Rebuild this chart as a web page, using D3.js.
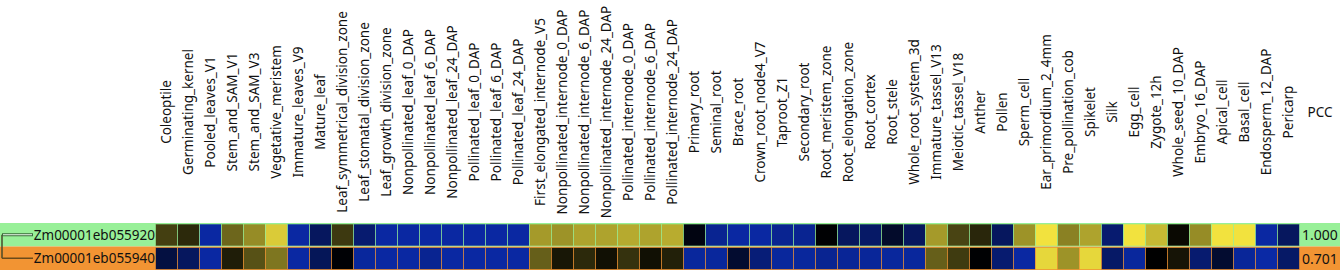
<!DOCTYPE html>
<html><head><meta charset="utf-8">
<script src="https://cdn.jsdelivr.net/npm/d3@7"></script>
<style>html,body{margin:0;padding:0;background:#fff;}svg{display:block;}</style>
</head><body><div id="chart"></div>
<script>
const tissues = ["Coleoptile","Germinating_kernel","Pooled_leaves_V1","Stem_and_SAM_V1","Stem_and_SAM_V3","Vegetative_meristem","Immature_leaves_V9","Mature_leaf","Leaf_symmetrical_division_zone","Leaf_stomatal_division_zone","Leaf_growth_division_zone","Nonpollinated_leaf_0_DAP","Nonpollinated_leaf_6_DAP","Nonpollinated_leaf_24_DAP","Pollinated_leaf_0_DAP","Pollinated_leaf_6_DAP","Pollinated_leaf_24_DAP","First_elongated_internode_V5","Nonpollinated_internode_0_DAP","Nonpollinated_internode_6_DAP","Nonpollinated_internode_24_DAP","Pollinated_internode_0_DAP","Pollinated_internode_6_DAP","Pollinated_internode_24_DAP","Primary_root","Seminal_root","Brace_root","Crown_root_node4_V7","Taproot_Z1","Secondary_root","Root_meristem_zone","Root_elongation_zone","Root_cortex","Root_stele","Whole_root_system_3d","Immature_tassel_V13","Meiotic_tassel_V18","Anther","Pollen","Sperm_cell","Ear_primordium_2_4mm","Pre_pollination_cob","Spikelet","Silk","Egg_cell","Zygote_12h","Whole_seed_10_DAP","Embryo_16_DAP","Apical_cell","Basal_cell","Endosperm_12_DAP","Pericarp"];
const genes = ["Zm00001eb055920","Zm00001eb055940"];
const pcc = ["1.000","0.701"];
const gene1 = [0.28,0.18,-0.95,0.45,0.62,0.9,-0.95,-0.55,0.25,-0.65,-0.95,-0.95,-0.95,-0.95,-0.95,-0.95,-0.95,0.68,0.65,0.72,0.72,0.75,0.72,0.76,-0.1,-0.85,-0.95,-0.95,-0.85,-0.85,-0.02,-0.55,-0.6,-0.25,-0.55,0.68,0.3,0.17,-0.55,0.65,1.0,0.57,0.72,-0.65,1.0,0.82,0.04,0.62,1.0,1.0,-0.95,-0.55];
const gene2 = [-0.38,-0.55,-0.95,0.13,0.36,0.52,-0.95,-0.52,-0.03,-0.92,-0.95,-0.95,-0.85,-0.95,-0.95,-0.95,-0.95,0.42,0.1,0.18,0.07,0.22,0.07,0.14,-0.92,-0.92,-0.28,-0.7,-0.92,-0.92,-0.85,-0.88,-0.9,-0.92,-0.92,0.42,0.26,-0.02,-0.65,-0.95,0.95,0.65,0.95,-0.6,-0.92,0.0,0.09,-0.65,-0.28,-0.9,-0.97,-0.6];
const rowColors = ["#98f098","#f29433"];

const W = 1340, H = 270;
const svg = d3.select("#chart").append("svg").attr("width", W).attr("height", H);
const font = "'Noto Sans', 'Open Sans', sans-serif";

const x = d3.scaleBand().domain(tissues).range([155.5, 1299.5]).padding(0);
const y = d3.scaleBand().domain(genes).range([223, 270]).padding(0);
const color = d3.scaleLinear().domain([-1, 0, 1]).range(["#0a2aaa", "#000000", "#f2e23e"]);

const rows = [gene1, gene2];

svg.selectAll("rect.rowbg").data(genes).join("rect")
  .attr("class", "rowbg")
  .attr("x", 0).attr("y", d => y(d))
  .attr("width", W).attr("height", y.bandwidth())
  .attr("fill", (d, i) => rowColors[i]);

genes.forEach((g, gi) => {
  svg.append("g").selectAll("rect").data(tissues).join("rect")
    .attr("x", d => x(d))
    .attr("y", y(g) + 1)
    .attr("width", x.bandwidth())
    .attr("height", y.bandwidth() - 1.5)
    .attr("fill", (d, i) => color(rows[gi][i]))
    .attr("stroke", rowColors[gi])
    .attr("stroke-opacity", 0.6)
    .attr("stroke-width", 1);
});

svg.append("g").selectAll("text").data(tissues).join("text")
  .attr("transform", d => `translate(${x(d) + x.bandwidth() / 2},112) rotate(-90)`)
  .attr("text-anchor", "middle")
  .attr("dy", "0.35em")
  .attr("font-family", font).attr("font-size", 13.5).attr("fill", "#111")
  .text(d => d);

svg.append("text").attr("x", 1320).attr("y", 112).attr("dy", "0.35em")
  .attr("text-anchor", "middle").attr("font-family", font).attr("font-size", 13.5).attr("fill", "#111")
  .text("PCC");

svg.append("g").selectAll("text").data(pcc).join("text")
  .attr("x", 1320).attr("y", (d, i) => y(genes[i]) + y.bandwidth() / 2 + 0.5)
  .attr("dy", "0.35em").attr("text-anchor", "middle")
  .attr("font-family", font).attr("font-size", 14).attr("fill", "#111")
  .text(d => d);

svg.append("g").selectAll("text").data(genes).join("text")
  .attr("x", 155).attr("y", d => y(d) + y.bandwidth() / 2 + 0.5)
  .attr("dy", "0.35em").attr("text-anchor", "end")
  .attr("font-family", font).attr("font-size", 13.5).attr("fill", "#111")
  .text(d => d);

const ym = genes.map(g => y(g) + y.bandwidth() / 2);
const tree = svg.append("g").attr("fill", "none");
tree.append("line").attr("x1", 2).attr("x2", 2).attr("y1", ym[0]).attr("y2", ym[1]).attr("stroke", "#4a4a2a").attr("stroke-width", 1.5);
tree.append("line").attr("x1", 2).attr("x2", 33).attr("y1", ym[0]).attr("y2", ym[0]).attr("stroke", "#3a6a3a").attr("stroke-width", 3);
tree.append("line").attr("x1", 3).attr("x2", 32).attr("y1", ym[0]).attr("y2", ym[0]).attr("stroke", "#f0fff0").attr("stroke-width", 1);
tree.append("line").attr("x1", 2).attr("x2", 33).attr("y1", ym[1]).attr("y2", ym[1]).attr("stroke", "#6b4a1a").attr("stroke-width", 1.5);
</script></body></html>
